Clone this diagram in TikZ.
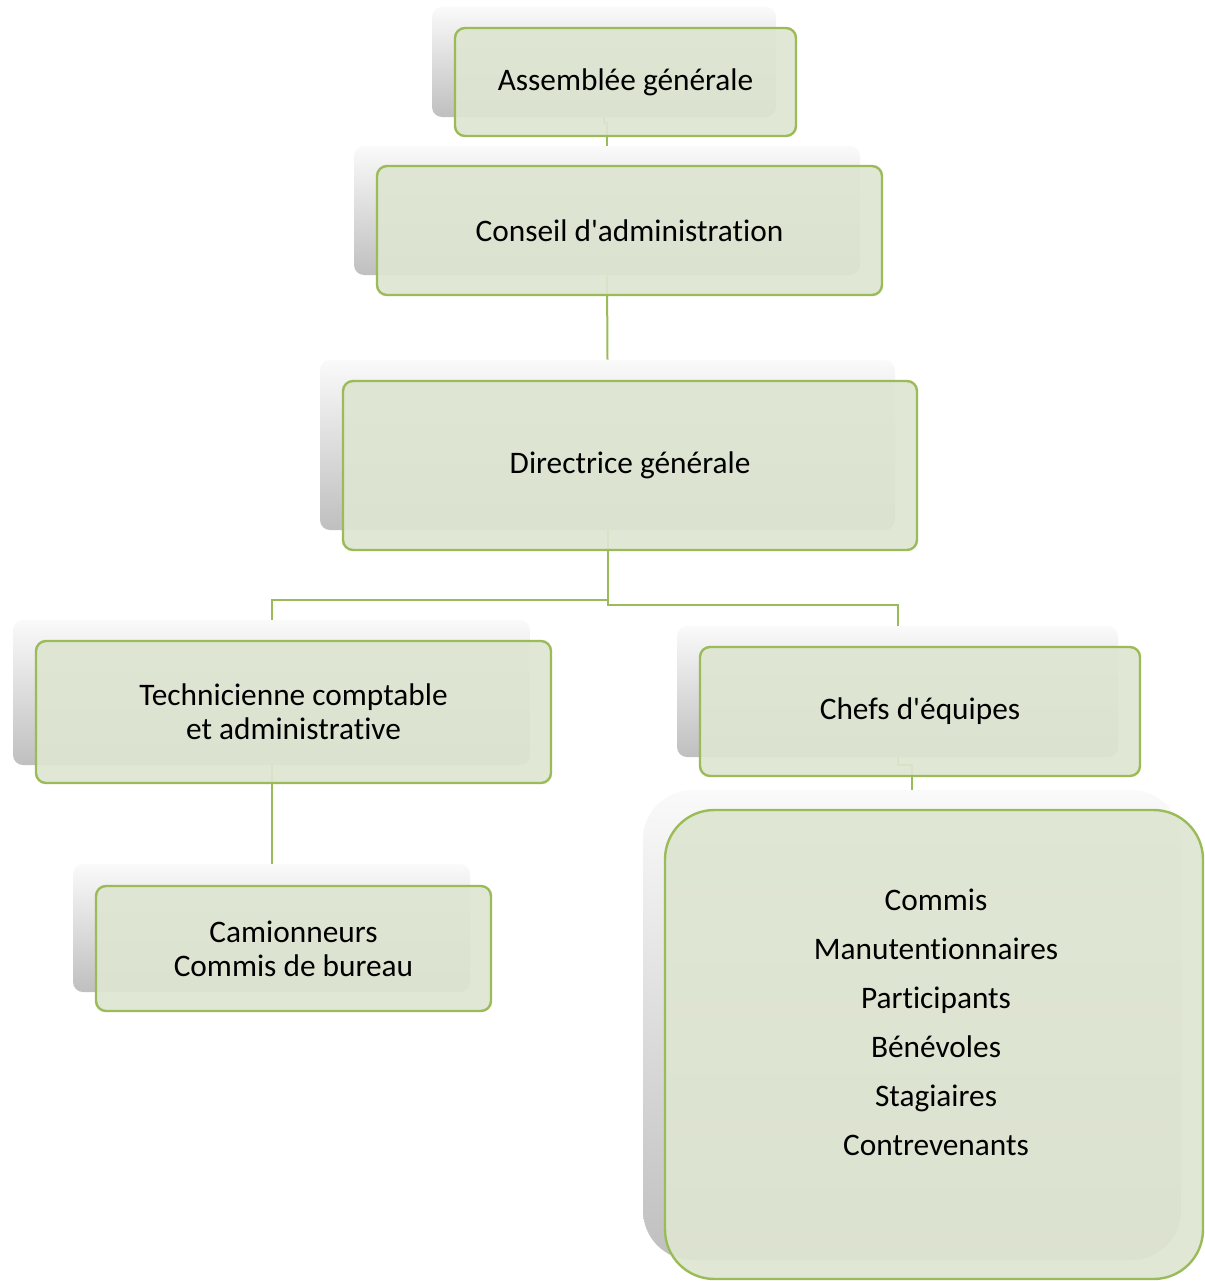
\documentclass[tikz,border=0pt]{standalone}
\usepackage{fontspec}
\setmainfont{Carlito}[Ligatures={NoCommon}]
\usetikzlibrary{positioning}
\definecolor{boxfill}{RGB}{222,229,209}
\definecolor{boxline}{RGB}{155,187,89}

\begin{document}
\begin{tikzpicture}[x=0.75pt,y=-0.75pt,
	size/.style 2 args={minimum width=#1*0.75pt, minimum height=#2*0.75pt},
	back/.style={rounded corners=7.5pt, top color=black!2, bottom color=black!25, draw=none},
	front/.style={rounded corners=7.5pt, fill=boxfill, fill opacity=0.93, text opacity=1, draw=boxline, line width=1.8pt, align=center, font=\fontsize{23.5}{25.5}\selectfont},
	link/.style={draw=boxline, line width=1.5pt}]
		\useasboundingbox (0,0) rectangle (1204,1281);
		%draw back boxes
		\node[back, size={344}{110}] (ag-s) at (604,62) {};
		\node[back, size={506}{129}] (ca-s) at (607,210.5) {};
		\node[back, size={575}{170}] (dg-s) at (607.5,445) {};
		\node[back, size={517}{145}] (tc-s) at (271.5,692.5) {};
		\node[back, size={441}{131}] (ce-s) at (897.5,691.5) {};
		\node[back, size={397}{128}] (cb-s) at (271.5,928) {};
		\node[back, size={538}{470}, rounded corners=37pt] (eq-s) at (912,1025) {};
		%draw links
		\draw[link] (ag-s.south) -- ++(0,6) -| (ca-s.north);
		\draw[link] (ca-s.south) -- (dg-s.north);
		\draw[link] (dg-s.south) -- ++(0,70) -| (tc-s.north);
		\draw[link] (dg-s.south) -- ++(0,75) -| (ce-s.north);
		\draw[link] (tc-s.south) -- (cb-s.north);
		\draw[link] (ce-s.south) -- ++(0,8) -| (eq-s.north);
		%draw front boxes
		\node[front, size={341}{108}] (ag) at (625.5,82) {Assemblée générale};
		\node[front, size={505}{129}] (ca) at (629.5,230.5) {Conseil d\textquotesingle administration};
		\node[front, size={574}{169}] (dg) at (630,465.5) {Directrice générale};
		\node[front, size={515}{142}] (tc) at (293.5,712) {Technicienne comptable\\et administrative};
		\node[front, size={440}{129}] (ce) at (920,711.5) {Chefs d\textquotesingle équipes};
		\node[front, size={395}{125}] (cb) at (293.5,948.5) {Camionneurs\\Commis de bureau};
		\node[front, size={538}{469}, rounded corners=37pt] (eq) at (934,1044.5) {};
		\node[align=center, font=\fontsize{23.5}{36.75}\selectfont] (eq-txt) at (936,1022) {Commis\\Manutentionnaires\\Participants\\Bénévoles\\Stagiaires\\Contrevenants};
\end{tikzpicture}
\end{document}
